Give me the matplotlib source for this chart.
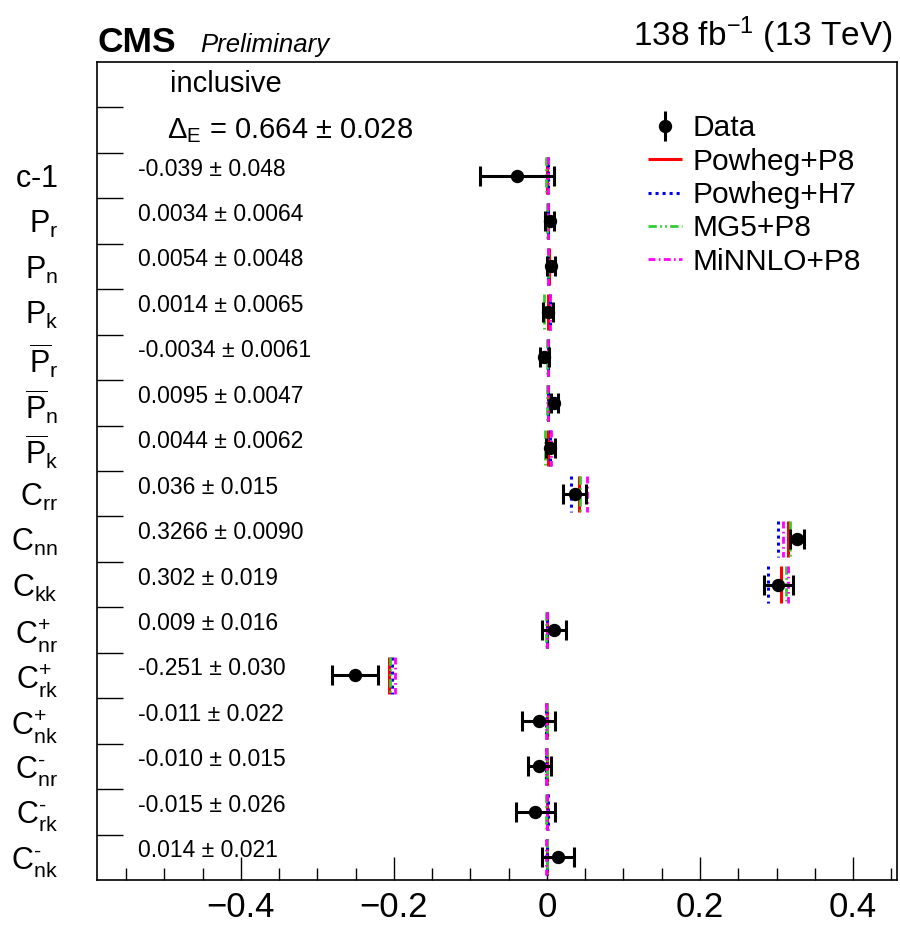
import numpy as np
import matplotlib
matplotlib.use("Agg")
import matplotlib.pyplot as plt
from matplotlib.ticker import FixedLocator, FuncFormatter

plt.rcParams['font.family'] = ['Liberation Sans', 'DejaVu Sans']
plt.rcParams['mathtext.fontset'] = 'custom'
plt.rcParams['mathtext.rm'] = 'Liberation Sans'
plt.rcParams['mathtext.it'] = 'Liberation Sans:italic'
plt.rcParams['mathtext.bf'] = 'Liberation Sans:bold'

# observables, top to bottom
labels = [r'$\mathrm{c\text{-}1}$',
          r'$\mathrm{P}_{\mathrm{r}}$', r'$\mathrm{P}_{\mathrm{n}}$', r'$\mathrm{P}_{\mathrm{k}}$',
          r'$\overline{\mathrm{P}}_{\mathrm{r}}$', r'$\overline{\mathrm{P}}_{\mathrm{n}}$',
          r'$\overline{\mathrm{P}}_{\mathrm{k}}$',
          r'$\mathrm{C}_{\mathrm{rr}}$', r'$\mathrm{C}_{\mathrm{nn}}$', r'$\mathrm{C}_{\mathrm{kk}}$',
          r'$\mathrm{C}^{+}_{\mathrm{nr}}$', r'$\mathrm{C}^{+}_{\mathrm{rk}}$', r'$\mathrm{C}^{+}_{\mathrm{nk}}$',
          r'$\mathrm{C}^{\text{-}}_{\mathrm{nr}}$', r'$\mathrm{C}^{\text{-}}_{\mathrm{rk}}$',
          r'$\mathrm{C}^{\text{-}}_{\mathrm{nk}}$']

# measured values and total uncertainties (as quoted)
val_str = ["-0.039", "0.0034", "0.0054", "0.0014", "-0.0034", "0.0095", "0.0044",
           "0.036", "0.3266", "0.302", "0.009", "-0.251", "-0.011", "-0.010", "-0.015", "0.014"]
err_str = ["0.048", "0.0064", "0.0048", "0.0065", "0.0061", "0.0047", "0.0062",
           "0.015", "0.0090", "0.019", "0.016", "0.030", "0.022", "0.015", "0.026", "0.021"]

# MC predictions
powheg_p8 = [0.000, 0.002, 0.003, 0.002, 0.001, 0.002, 0.002,
             0.042, 0.315, 0.306, 0.000, -0.207, 0.000, 0.000, 0.000, 0.000]
powheg_h7 = [0.001, 0.002, 0.002, 0.004, 0.002, 0.002, 0.004,
             0.031, 0.302, 0.289, 0.000, -0.203, -0.001, -0.001, 0.001, 0.000]
mg5_p8 = [-0.001, 0.000, 0.001, -0.004, 0.000, 0.000, -0.003,
          0.043, 0.317, 0.313, -0.001, -0.205, 0.000, 0.000, -0.001, 0.000]
minnlo_p8 = [0.001, 0.002, 0.001, 0.004, 0.002, 0.002, 0.005,
             0.052, 0.309, 0.315, 0.000, -0.198, -0.001, -0.001, 0.000, -0.001]

delta_e = "0.664"
delta_e_err = "0.028"

values = np.array([float(s) for s in val_str])
errors = np.array([float(s) for s in err_str])

n_header = 2
n_rows = n_header + len(labels)
centers = np.arange(len(labels)) + n_header + 0.5

fig = plt.figure(figsize=(9, 9.32), dpi=100)
ax = fig.add_axes([0.1078, 0.0558, 0.8889, 0.8777])

# solid red goes underneath so the broken lines stay visible on top of it
mc = [
    (powheg_p8, 'Powheg+P8', '#ff0000', '-', 2.2),
    (powheg_h7, 'Powheg+H7', '#0000ee', (0, (1, 1.3)), 2.2),
    (mg5_p8, 'MG5+P8', '#33cc33', (0, (3, 1.2, 0.6, 1.2, 0.6, 1.2)), 2.0),
    (minnlo_p8, 'MiNNLO+P8', '#ff00ff', (0, (2.5, 1.2, 0.6, 1.2)), 2.0),
]
handles = {}
for pred, name, col, ls, lw in mc:
    handles[name] = ax.vlines(pred, centers - 0.4, centers + 0.4, colors=col,
                              linestyles=[ls], linewidth=lw, label=name, zorder=2)

ax.errorbar(values, centers, xerr=errors, fmt='o', color='k', ms=8.6,
            elinewidth=2.2, capsize=7, capthick=2.2, zorder=3)
data_proxy = ax.errorbar([], [], yerr=[], fmt='o', color='k', ms=8.6,
                         elinewidth=2.2, capsize=0)

for v, e, y in zip(val_str, err_str, centers):
    ax.text(-0.535, y, f"{v} \u00b1 {e}", fontsize=16.5, va='baseline', ha='left')

ax.text(-0.493, 0.66, "inclusive", fontsize=21, va='baseline', ha='left')
ax.text(-0.497, 1.67, r"$\Delta_{\mathrm{E}}$" + f" = {delta_e} \u00b1 {delta_e_err}",
        fontsize=21, va='baseline', ha='left')

ax.set_xlim(-0.588, 0.4575)
ax.set_ylim(n_rows, 0)

ax.yaxis.set_major_locator(FixedLocator(np.arange(1, n_rows)))
ax.yaxis.set_major_formatter(FuncFormatter(lambda v, p: ''))
ax.set_yticks(centers, minor=True)
ax.set_yticklabels(labels, minor=True, fontsize=22)
ax.tick_params(axis='y', which='major', direction='in', length=18.7, width=1,
               left=True, right=False)
ax.tick_params(axis='y', which='minor', length=0, pad=28)

ax.xaxis.set_major_locator(FixedLocator([-0.4, -0.2, 0.0, 0.2, 0.4]))
ax.xaxis.set_minor_locator(FixedLocator(np.arange(-0.55, 0.451, 0.05)))
ax.xaxis.set_major_formatter(FuncFormatter(
    lambda v, p: '0' if abs(v) < 1e-9 else f"{v:.1f}".replace('-', '\u2212')))
ax.tick_params(axis='x', which='major', direction='in', length=16.5, width=1,
               labelsize=25, pad=8, top=False)
ax.tick_params(axis='x', which='minor', direction='in', length=8.6, width=1, top=False)

for s in ax.spines.values():
    s.set_linewidth(1.2)

order = ['Powheg+P8', 'Powheg+H7', 'MG5+P8', 'MiNNLO+P8']
ax.legend([data_proxy] + [handles[k] for k in order], ['Data'] + order,
          loc='upper left', bbox_to_anchor=(0.689, 0.936), frameon=False,
          fontsize=21.5, handlelength=1.14, handletextpad=0.33, labelspacing=0.18,
          borderpad=0, borderaxespad=0)

fig.text(0.108, 0.944, "CMS", fontsize=25.5, fontweight='bold', va='baseline', ha='left')
fig.text(0.222, 0.944, "Preliminary", fontsize=18.5, style='italic', va='baseline', ha='left')
fig.text(0.992, 0.9506, r"138 fb$^{-1}$ (13 TeV)", fontsize=24, va='baseline', ha='right')

fig.savefig("out.png", dpi=100)
